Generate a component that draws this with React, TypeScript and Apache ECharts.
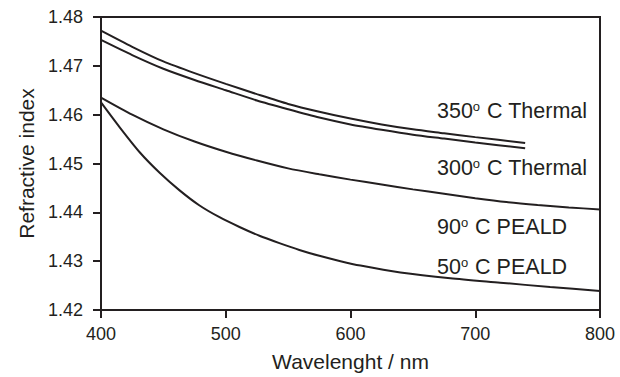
import React, { useEffect, useRef } from 'react';
import * as echarts from 'echarts';

const thermalWavelengths = [400, 425, 450, 475, 500, 525, 550, 575, 600, 625, 650, 675, 700, 740];
const thermal350 = [1.4772, 1.4739, 1.4709, 1.4685, 1.4663, 1.4642, 1.4622, 1.4606, 1.4592, 1.4580, 1.4570, 1.4562, 1.4554, 1.4542];
const thermal300 = [1.4753, 1.4722, 1.4694, 1.4671, 1.4650, 1.4629, 1.4611, 1.4594, 1.4580, 1.4569, 1.4559, 1.4551, 1.4543, 1.4531];

const peald90Wavelengths = [400, 425, 450, 475, 500, 525, 550, 575, 600, 625, 650, 675, 700, 725, 750, 775, 800];
const peald90 = [1.4635, 1.4600, 1.4570, 1.4545, 1.4524, 1.4506, 1.4490, 1.4478, 1.4467, 1.4457, 1.4447, 1.4438, 1.4429, 1.4421, 1.4415, 1.4410, 1.4406];

const peald50Wavelengths = [400, 415, 431, 447, 463, 479, 495, 511, 527, 543, 559, 575, 592, 608, 640, 680, 720, 760, 800];
const peald50 = [1.4625, 1.4574, 1.4523, 1.4481, 1.4445, 1.4414, 1.4390, 1.4370, 1.4352, 1.4337, 1.4323, 1.4311, 1.4300, 1.4291, 1.4277, 1.4265, 1.4256, 1.4247, 1.4239];

const seriesNames = ['350', '300', '90', '50'];
const annotationTexts = ['350{s|o} C Thermal', '300{s|o} C Thermal', '90{s|o} C PEALD', '50{s|o} C PEALD'];

const xAxisName = 'Wavelenght / nm';
const yAxisName = 'Refractive index';

const INK = '#231f20';
const FONT = '"Liberation Sans", Arial, Helvetica, sans-serif';

function pairs(xs: number[], ys: number[]) {
  return xs.map((x, i) => [x, ys[i]]);
}

export default function App() {
  const ref = useRef<HTMLDivElement>(null);

  useEffect(() => {
    if (!ref.current) return;
    const chart = echarts.init(ref.current, null, { renderer: 'svg' });

    const datasets = [
      pairs(thermalWavelengths, thermal350),
      pairs(thermalWavelengths, thermal300),
      pairs(peald90Wavelengths, peald90),
      pairs(peald50Wavelengths, peald50),
    ];

    const annY = [110.5, 168, 226.5, 266.5];

    chart.setOption({
      animation: false,
      backgroundColor: '#ffffff',
      grid: {
        left: 101,
        right: 20,
        top: 17,
        bottom: 65,
        show: true,
        borderColor: INK,
        borderWidth: 2,
        backgroundColor: 'transparent',
      },
      xAxis: {
        type: 'value',
        min: 400,
        max: 800,
        interval: 100,
        name: xAxisName,
        nameLocation: 'middle',
        nameGap: 41,
        nameTextStyle: { color: INK, fontSize: 21, fontFamily: FONT },
        axisLine: { show: true, lineStyle: { color: INK, width: 2 } },
        axisTick: { show: true, inside: false, length: 8, lineStyle: { color: INK, width: 2 } },
        axisLabel: { color: INK, fontSize: 18, fontFamily: FONT, margin: 15 },
        splitLine: { show: false },
      },
      yAxis: {
        type: 'value',
        min: 1.42,
        max: 1.48,
        interval: 0.01,
        name: yAxisName,
        nameLocation: 'middle',
        nameGap: 63,
        nameTextStyle: { color: INK, fontSize: 21, fontFamily: FONT },
        axisLine: { show: true, lineStyle: { color: INK, width: 2 } },
        axisTick: { show: true, inside: false, length: 8, lineStyle: { color: INK, width: 2 } },
        axisLabel: {
          color: INK,
          fontSize: 18,
          fontFamily: FONT,
          margin: 18,
          formatter: (v: number) => v.toFixed(2),
        },
        splitLine: { show: false },
      },
      series: datasets.map((d, i) => ({
        name: seriesNames[i],
        type: 'line',
        data: d,
        smooth: 0.25,
        showSymbol: false,
        symbol: 'none',
        lineStyle: { color: INK, width: 2 },
        z: 3,
      })),
      graphic: annotationTexts.map((t, i) => ({
        type: 'text',
        x: 437,
        y: annY[i],
        style: {
          text: t,
          fill: INK,
          fontSize: 21.5,
          fontFamily: FONT,
          verticalAlign: 'middle',
          align: 'left',
          rich: {
            s: { fontSize: 13, verticalAlign: 'top', fill: INK, fontFamily: FONT, padding: [0, 1, 8, 0] },
          },
        },
      })),
    });

    return () => chart.dispose();
  }, []);

  return (
    <div
      ref={ref}
      style={{ position: 'fixed', left: 0, top: 0, width: 620, height: 377, background: '#fff' }}
    />
  );
}
